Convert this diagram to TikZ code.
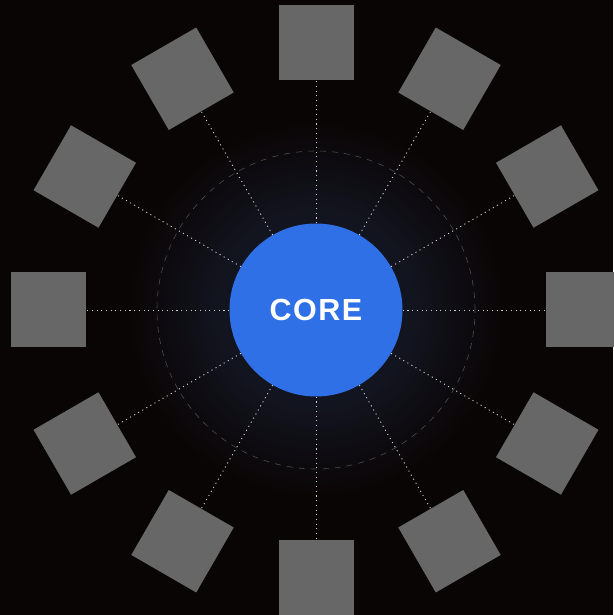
\documentclass[tikz,border=0pt]{standalone}
\usepackage{fontspec}
\setmainfont{Liberation Sans}
\definecolor{bg}{HTML}{0A0505}
\definecolor{glowc}{HTML}{12141F}
\definecolor{coreblue}{HTML}{3070E6}
\definecolor{sqgray}{HTML}{676767}
\tikzset{
  sat/.style={draw=none, fill=sqgray, minimum size=75pt, inner sep=0pt, rectangle},
  link/.style={white, opacity=0.8, line width=0.9pt, dash pattern=on 1.1pt off 3.6pt},
  ring/.style={gray, opacity=0.55, line width=0.6pt, dash pattern=on 6pt off 6pt},
  corenode/.style={circle, fill=coreblue, minimum size=173pt, inner sep=0pt, text=white, font=\bfseries\fontsize{30.5}{32}\selectfont}
}
\begin{document}
\begin{tikzpicture}[x=1pt,y=1pt]
\fill[bg] (-316,-305) rectangle (297,310);
\useasboundingbox (-316,-305) rectangle (297,310);
\foreach \r in {190,186,...,86}{
  \pgfmathsetmacro{\t}{min(100,max(0,100*(190-\r)/90))}
  \fill[glowc!\t!bg] (0,0) circle (\r);
}
\draw[ring] (0,0) circle (159);
\node[corenode] (core) at (0,0) {C\kern1.5pt O\kern1.5pt R\kern1.5pt E};
\foreach \k in {0,...,11}{
  \pgfmathsetmacro{\a}{\k*30}
  \node[sat, rotate=\a] (s\k) at (\a:267) {};
  \draw[link] (core) -- (s\k.west);
}
\end{tikzpicture}
\end{document}
